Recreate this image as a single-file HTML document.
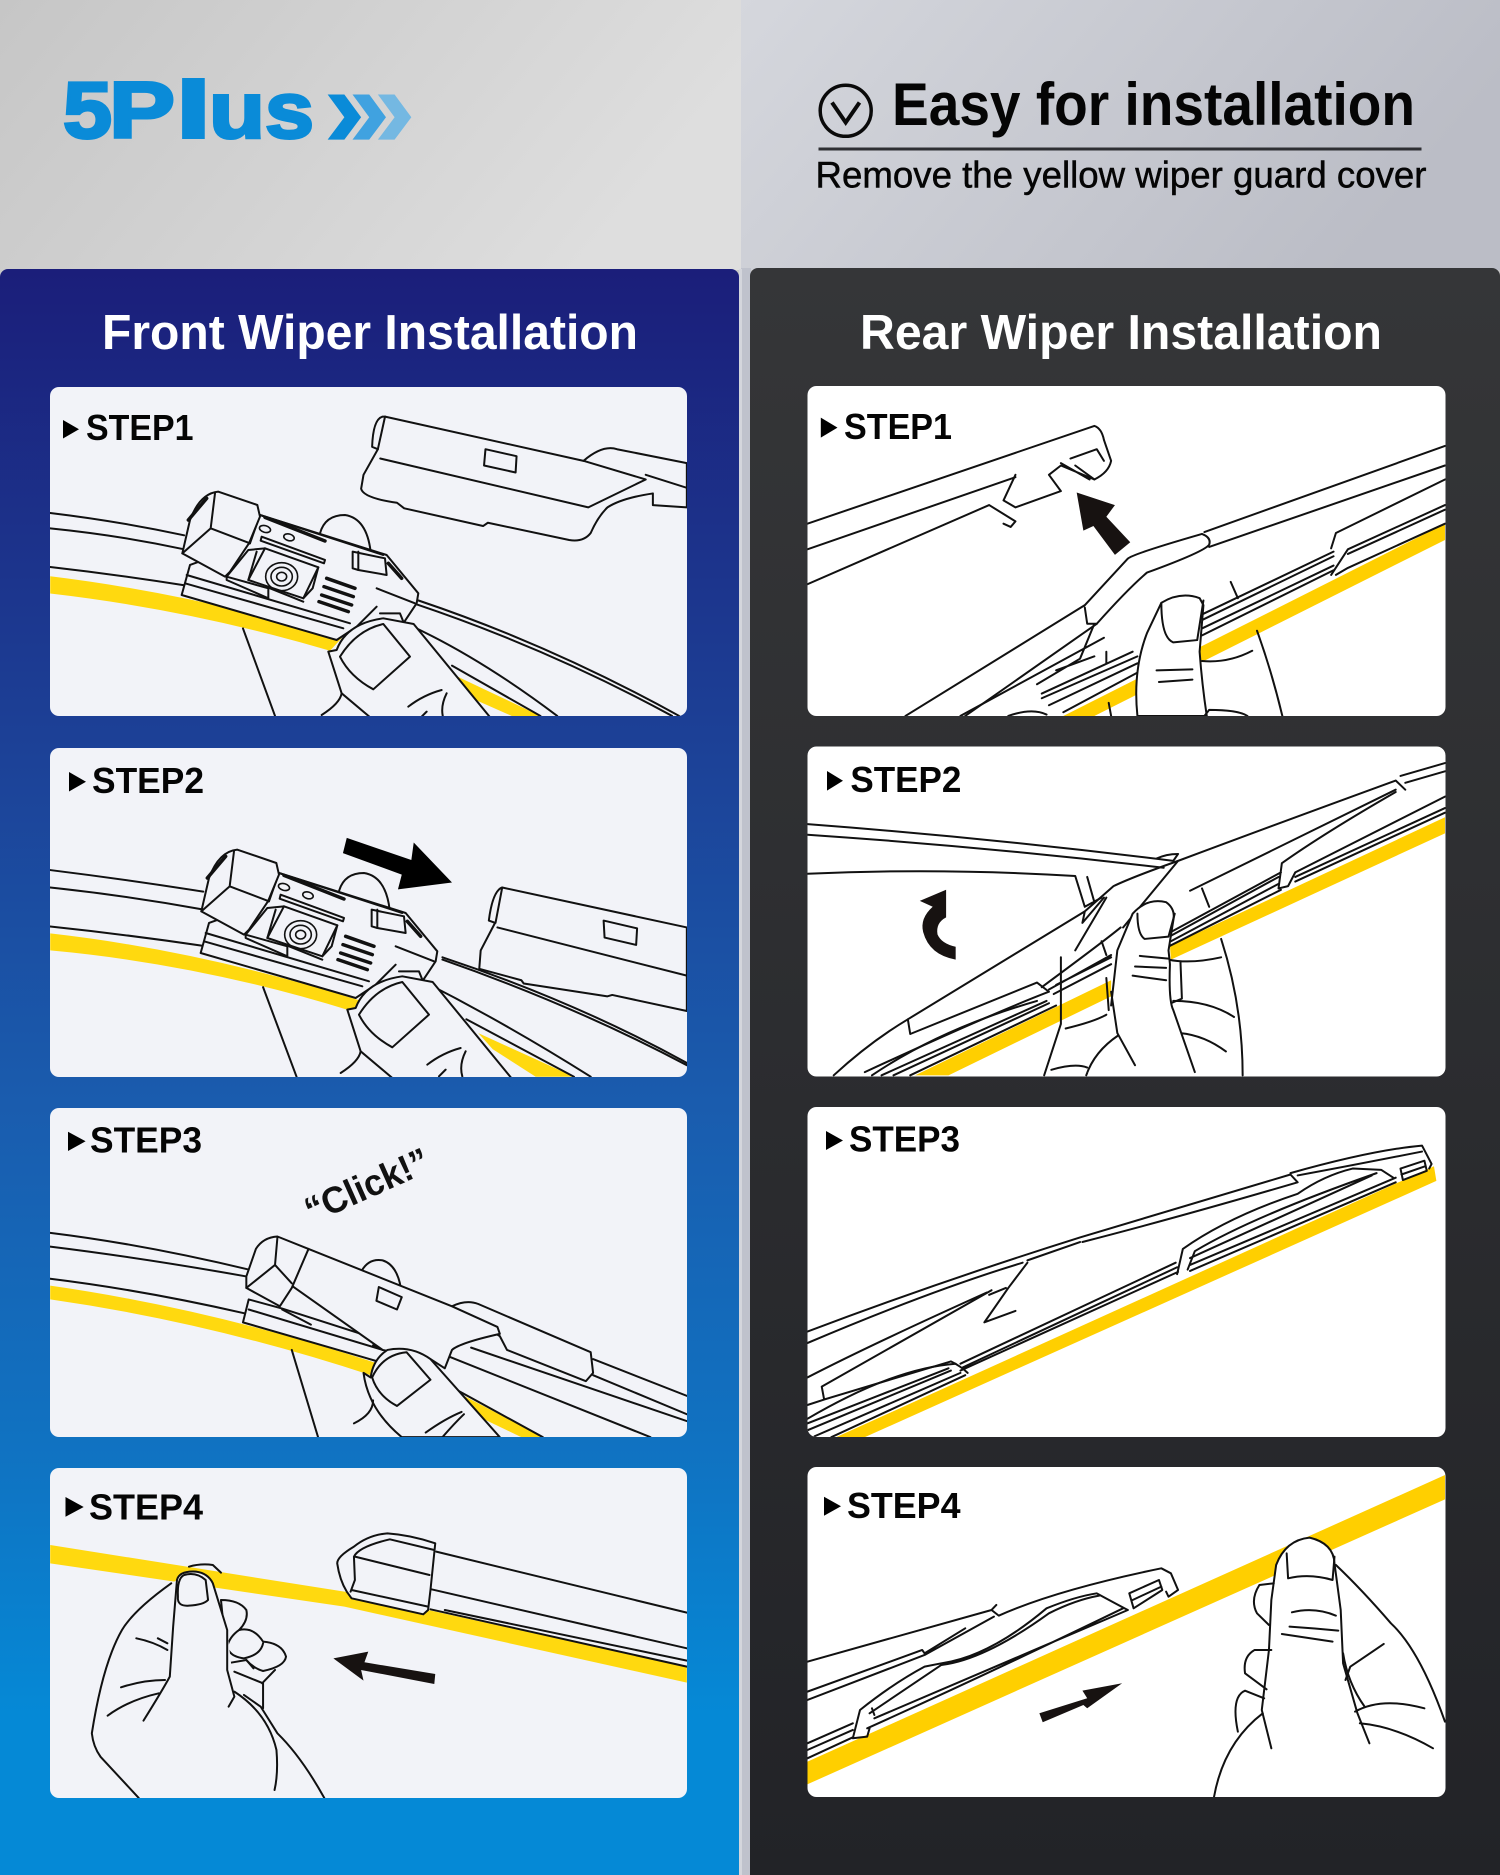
<!DOCTYPE html>
<html><head><meta charset="utf-8"><style>
html,body{margin:0;padding:0;background:#c8c8c8}
svg{display:block}
.d path,.d ellipse{vector-effect:non-scaling-stroke;fill:none;stroke:#111;stroke-width:2;stroke-linejoin:round;stroke-linecap:round}
.d path.f{fill:#f2f3f8}
.d path.w{fill:#fff}
.d path.y{fill:#ffd90f;stroke:none}
.d path.o{fill:#ffcf00;stroke:none}
.d path.k{fill:#171211;stroke:none}
.d path.b{stroke-width:3.5}
.d path.t,.d ellipse{stroke-width:1.6}
text{font-family:"Liberation Sans",sans-serif}
.s{font-weight:700;font-size:36px;fill:#050505}
.l{font-weight:700;font-size:80px;fill:#0a8bd8;stroke:#0a8bd8;stroke-width:3}
</style></head><body>
<svg width="1500" height="1875" viewBox="0 0 1500 1875" xmlns="http://www.w3.org/2000/svg">
<defs>
<linearGradient id="a" x1="0" y1="0" x2="1" y2=".3"><stop offset="0" stop-color="#c6c6c6"/><stop offset="1" stop-color="#dedede"/></linearGradient>
<linearGradient id="b" x1="0" y1="0" x2="1" y2=".3"><stop offset="0" stop-color="#d5d7dd"/><stop offset="1" stop-color="#bbbdc6"/></linearGradient>
<linearGradient id="c" x1="0" y1="0" x2="0" y2="1"><stop offset="0" stop-color="#1b1e7a"/><stop offset=".29" stop-color="#1c4096"/><stop offset=".52" stop-color="#1a5cae"/><stop offset=".75" stop-color="#0f74c3"/><stop offset=".9" stop-color="#0589d6"/></linearGradient>
<linearGradient id="e" x1="0" y1="0" x2="0" y2="1"><stop offset="0" stop-color="#353638"/><stop offset="1" stop-color="#222327"/></linearGradient>
<clipPath id="cl1"><rect x="50" y="387" width="637" height="329" rx="9"/></clipPath>
<clipPath id="cl2"><rect x="50" y="748" width="637" height="329" rx="9"/></clipPath>
<clipPath id="cl3"><rect x="50" y="1108" width="637" height="329" rx="9"/></clipPath>
<clipPath id="cl4"><rect x="50" y="1468" width="637" height="330" rx="9"/></clipPath>
<clipPath id="cr1"><rect x="807.5" y="386" width="638" height="330" rx="9"/></clipPath>
<clipPath id="cr2"><rect x="807.5" y="746.5" width="638" height="330" rx="9"/></clipPath>
<clipPath id="cr3"><rect x="807.5" y="1107" width="638" height="330" rx="9"/></clipPath>
<clipPath id="cr4"><rect x="807.5" y="1467" width="638" height="330" rx="9"/></clipPath>
<g id="conn" class="d">
<path d="M450 160Q465 105 525 105Q590 115 602 215"/>
<path class="f" d="M60 255L35 345L500 480L560 440L700 430L740 370L745 340L650 225L270 105L240 190Z"/>
<path d="M50 285L540 430M45 310L520 445"/>
<path class="b" d="M285 112L465 183"/>
<path d="M270 105L640 225M275 170L465 240L462 250L272 182ZM620 325L735 370M630 400L690 400L700 425M620 380L560 440"/>
<ellipse cx="285" cy="147" rx="17" ry="10" transform="rotate(15 285 147)"/>
<ellipse cx="357" cy="172" rx="16" ry="10" transform="rotate(15 357 172)"/>
<path class="f" d="M285 205L445 262L400 355L235 300Z"/>
<path d="M445 262L428 325L400 355M170 290L235 210L285 205M170 290L295 325V355L170 300ZM260 215L235 300M300 325L400 365"/>
<ellipse cx="335" cy="290" rx="48" ry="42"/><ellipse cx="335" cy="290" rx="32" ry="28"/><ellipse cx="335" cy="290" rx="15" ry="13"/>
<path class="b" d="M470 295L555 325M462 320L550 350M455 345L545 375M447 365L535 395"/>
<path class="f" d="M548 215L645 235L650 285L565 270L548 265Z"/>
<path d="M565 215V270"/><path class="b" d="M655 250L695 295"/>
<path class="f" d="M37 220L60 120Q90 40 145 35L262 75L270 110L237 190L180 275L165 290Z"/>
<path d="M135 40L122 145L37 220M122 145L240 190"/><path class="b" d="M55 120L110 55"/>
<path class="f" d="M475 515L515 640L610 720H967L731 432L640 415Q530 430 500 510Z"/>
<path class="f" d="M510 530Q560 450 640 432L720 530L610 628Q540 590 510 530Z"/>
<path d="M515 640Q510 670 455 705M715 680Q760 645 815 630M750 715L770 695M830 640Q810 680 820 715"/>
</g>
</defs>
<rect width="741" height="270" fill="url(#a)"/>
<rect x="741" width="759" height="270" fill="url(#b)"/>
<rect x="741" y="268" width="10" height="1607" fill="#bfc2cc"/>
<rect x="739" y="269" width="3" height="1606" fill="#d4d6dc"/>
<path d="M0 277a8 8 0 0 1 8-8H731a8 8 0 0 1 8 8V1875H0Z" fill="url(#c)"/>
<path d="M750 276a8 8 0 0 1 8-8H1492a8 8 0 0 1 8 8V1875H750Z" fill="url(#e)"/>
<rect x="50" y="387" width="637" height="329" rx="9" fill="#f2f3f8"/>
<rect x="50" y="748" width="637" height="329" rx="9" fill="#f2f3f8"/>
<rect x="50" y="1108" width="637" height="329" rx="9" fill="#f2f3f8"/>
<rect x="50" y="1468" width="637" height="330" rx="9" fill="#f2f3f8"/>
<rect x="807.5" y="386" width="638" height="330" rx="9" fill="#fff"/>
<rect x="807.5" y="746.5" width="638" height="330" rx="9" fill="#fff"/>
<rect x="807.5" y="1107" width="638" height="330" rx="9" fill="#fff"/>
<rect x="807.5" y="1467" width="638" height="330" rx="9" fill="#fff"/>

<!-- logo -->
<text class="l" x="63" y="137.5" textLength="49" lengthAdjust="spacingAndGlyphs">5</text>
<text class="l" x="109" y="137.5" textLength="66" lengthAdjust="spacingAndGlyphs">P</text>
<text class="l" x="175.5" y="137.5" textLength="36" lengthAdjust="spacingAndGlyphs">l</text>
<text class="l" x="209" y="137.5" textLength="56" lengthAdjust="spacingAndGlyphs">u</text>
<text class="l" x="265" y="137.5" textLength="49" lengthAdjust="spacingAndGlyphs">s</text>
<g transform="scale(.4783,.4655)">
<path d="M685 203H720L755 252L720 300H685L720 252Z" fill="#0a8bd8"/>
<path d="M737 203H772L807 252L772 300H737L772 252Z" fill="#40a2e0"/>
<path d="M790 203H825L860 252L825 300H790L825 252Z" fill="#74b8e2"/>
</g>

<!-- header right -->
<circle cx="845.7" cy="110.8" r="25.5" fill="none" stroke="#0a0a0a" stroke-width="3.5"/>
<path d="M832 102.5L845.7 122.5L859.5 102.5" fill="none" stroke="#0a0a0a" stroke-width="4"/>
<text x="892" y="125" font-size="60" font-weight="700" fill="#050505" textLength="523" lengthAdjust="spacingAndGlyphs">Easy for installation</text>
<rect x="818.5" y="147.5" width="603" height="3" fill="#2e2f33"/>
<text x="815.5" y="187.5" font-size="37" fill="#050505" stroke="#050505" stroke-width=".5" textLength="611" lengthAdjust="spacingAndGlyphs">Remove the yellow wiper guard cover</text>

<text x="102" y="349" font-size="49" font-weight="700" fill="#fff" textLength="536" lengthAdjust="spacingAndGlyphs">Front Wiper Installation</text>
<text x="860" y="349" font-size="49" font-weight="700" fill="#fff" textLength="522" lengthAdjust="spacingAndGlyphs">Rear Wiper Installation</text>

<!-- L1 -->
<g class="d" clip-path="url(#cl1)">
<g transform="scale(.4783,.4655)">
<path class="y" d="M105 1238Q400 1275 715 1370L690 1398Q400 1310 105 1275Z"/>
<path class="y" d="M945 1448L1130 1538H1070L975 1495Z"/>
<path d="M105 1102Q250 1120 385 1150M105 1135Q250 1150 385 1180M105 1218Q250 1235 390 1258"/>
<path d="M875 1290Q1150 1385 1420 1538M870 1298Q1150 1395 1405 1538M850 1340Q1000 1410 1165 1538M945 1430L1130 1538M508 1350L575 1538"/>
</g>
<g transform="translate(170,480) scale(.3333)"><use href="#conn"/></g>
<g transform="scale(.4783,.4655)">
<path class="f" d="M800 895Q780 900 778 960L790 965L760 1020L755 1050Q760 1070 830 1080L845 1092L1010 1130L1020 1123L1190 1160Q1220 1165 1235 1145Q1250 1110 1270 1090Q1300 1070 1365 1060L1365 1085L1436 1090V995L1290 965Q1260 955 1220 990L805 895Z"/>
<path d="M805 895L790 965M795 985L1230 1090L1350 1030L1220 990M1350 1020L1436 1048M1015 965L1080 980L1078 1015L1012 1000Z"/>
</g></g>

<!-- L2 -->
<g class="d" clip-path="url(#cl2)">
<g transform="translate(0,730) scale(.4783,.4592)">
<path class="y" d="M105 443Q420 480 755 590L735 612Q420 510 105 480Z"/>
<path class="y" d="M1000 660L1200 755H1120L1030 695Z"/>
<path d="M105 305Q260 325 425 352M105 343Q260 360 420 390M105 428Q260 445 425 470"/>
<path d="M925 495Q1200 590 1436 725M925 500Q1200 600 1436 730M880 545Q1060 640 1235 755M975 630L1200 755M550 560L620 755"/>
<path class="f" d="M1050 343Q1030 350 1022 415L1035 420L1005 480L1002 520L1090 545L1095 552L1270 580L1280 577L1436 612V430Z"/>
<path d="M1050 343L1036 420M1040 430L1436 535M1262 415L1332 432L1330 468L1264 452Z"/>
<path class="k" d="M725 235L860 283L865 245L945 332L832 347L840 315L717 268Z" style="fill:#000"/>
</g>
<g transform="translate(189,838) scale(.3333)"><use href="#conn"/></g>
</g>

<!-- L3 -->
<g class="d" clip-path="url(#cl3)"><g transform="translate(0,730) scale(.4783,.4592)">
<path class="y" d="M105 1210Q440 1260 785 1378L775 1405Q440 1290 105 1240Z"/>
<path class="y" d="M970 1450L1135 1540H1090L1000 1495Z"/>
<path d="M105 1095Q300 1120 520 1175M105 1125Q300 1150 515 1190M105 1195Q300 1220 510 1270M510 1290Q650 1330 790 1375"/>
<path d="M940 1365L1360 1540M985 1345L1436 1505M1240 1370L1436 1450M1240 1405L1436 1490M960 1440L1135 1540M610 1350L665 1540"/>
<path d="M755 1180Q770 1150 800 1155Q830 1165 838 1215"/>
<path class="f" d="M520 1240L508 1290L790 1375L830 1345L800 1330L590 1260Z"/>
<path d="M520 1262L800 1350M590 1262L650 1295M780 1340L800 1350"/>
<path class="f" d="M945 1255Q975 1240 1000 1250L1235 1355L1240 1400L1225 1418L1060 1350L1045 1320Z"/>
<path class="f" d="M645 1130L945 1255L1040 1300L1045 1315Q960 1335 945 1350L930 1390L900 1370L800 1350L610 1210Z"/>
<path d="M792 1213L840 1235L830 1262L787 1243Z"/>
<path class="f" d="M515 1190L535 1130Q550 1105 580 1103L645 1130L610 1215L585 1255L515 1215Z"/>
<path d="M580 1105L575 1165L515 1215M575 1165L610 1205"/>
<path class="f" d="M760 1400Q770 1480 840 1540H1045L900 1370Q860 1340 810 1350Q780 1370 775 1410Z"/>
<path class="f" d="M778 1410Q800 1360 850 1355L900 1415L830 1472Q790 1450 778 1410Z"/>
<path d="M890 1530Q930 1500 965 1485M925 1540Q950 1510 970 1490M740 1510Q780 1490 780 1460"/>
</g></g>
<text transform="translate(372,1197) rotate(-24)" text-anchor="middle" font-size="37" font-weight="700" fill="#111" textLength="132" lengthAdjust="spacingAndGlyphs">“Click!”</text>

<!-- L4 -->
<g class="d" clip-path="url(#cl4)"><g transform="translate(0,1450) scale(.4783,.3333)">
<path class="y" d="M105 285L720 425L1436 650V698L720 470L105 340Z"/>
<path class="f" d="M910 280Q860 255 810 250Q770 255 740 290Q705 320 705 340Q710 390 725 425L735 445L885 493L895 480L900 420Z"/>
<path d="M740 320Q750 290 815 268L908 300M742 320L898 375M740 320L742 390L733 425M735 420L895 470"/>
<path d="M912 305L1436 488M902 418L1436 595M900 478L1436 650M930 480L1436 632"/>
<path d="M395 350Q420 340 445 345L462 368"/>
<path class="f" d="M462 450Q500 450 515 480Q520 510 500 540Q530 530 550 575Q590 580 598 620Q595 650 550 663Q530 655 515 630L475 640Z"/>
<path d="M500 540Q480 560 475 590Q480 620 510 625Q545 615 550 580M515 630L530 655M490 665L550 700L550 775M575 660L548 700"/>
<path class="f" d="M358 400Q280 480 255 540Q215 640 192 850Q195 890 210 920L290 1044H678Q630 920 580 850L545 770L490 725L475 540L445 400Q435 370 410 365Q375 362 370 390Z" style="stroke:none"/>
<path d="M358 400Q280 480 255 540Q215 640 192 850Q195 890 210 920L290 1044"/>
<path d="M370 390Q375 362 410 365Q435 370 445 400L475 540L475 660L490 740L478 770M370 390L362 530L355 680Q340 720 300 812"/>
<path d="M372 440Q370 470 395 467Q425 465 435 450L430 390Q410 365 385 375Q370 385 372 440Z"/>
<path d="M490 725Q560 790 578 900Q582 970 574 1020M510 735L545 770L580 850Q630 920 678 1044"/>
<path d="M285 565Q320 575 350 600M330 565L350 580M253 712Q300 690 345 690M225 797Q270 750 332 730"/>
<path class="k" d="M697 625L770 605L762 637L910 672L908 702L755 660L760 692Z"/>
</g></g>

<!-- R1 -->
<g class="d" clip-path="url(#cr1)"><g transform="translate(750,0) scale(.4783,.4655)">
<path class="o" d="M1453 1125V1160L720 1538H655Z"/>
<path d="M120 1125L720 915Q735 920 740 945L755 990Q750 1015 720 1030L680 1000M120 1180L555 1025M120 1255L500 1085L555 1120L545 1132L530 1125"/>
<path d="M555 1020L530 1075L555 1090L650 1055L625 1020L650 1000L720 1030M650 995L710 1030M670 985L725 965L740 990"/>
<path class="k" d="M683 1058L763 1085L745 1110L795 1165L763 1192L718 1130L697 1140Z"/>
<path d="M950 1143L1453 958M960 1175L1453 1000M1215 1178L1225 1145L1453 1030M1215 1235L1250 1180L1453 1085M1225 1235L1250 1220L1453 1125M1250 1190L1453 1095"/>
<path d="M945 1320L1220 1185M945 1332L1220 1195M945 1350L1220 1215M945 1365L1220 1225M1005 1250L1020 1285"/>
<path d="M440 1538L740 1370M610 1490L800 1400M610 1500L810 1410M625 1515L810 1425M655 1530L810 1445M720 1340L690 1415L600 1470M640 1440L720 1410M540 1538Q590 1520 620 1535M745 1400L745 1425M750 1510L755 1538"/>
<path class="w" d="M325 1538L700 1300L790 1200Q800 1190 945 1147Q965 1155 960 1170Q950 1185 830 1230Q790 1265 725 1340L705 1340L700 1305"/>
<path d="M725 1340L450 1538"/>
<path class="w" d="M810 1538Q800 1440 830 1360L860 1295Q900 1270 940 1285L948 1300L940 1400Q945 1470 955 1538Z"/>
<path d="M860 1295Q860 1370 885 1380L935 1375L948 1290M850 1440L925 1438M855 1465L925 1460"/>
<path d="M1060 1355Q1090 1440 1113 1538M945 1420Q1000 1425 1050 1398M950 1538L960 1525Q1020 1525 1040 1538"/>
</g></g>

<!-- R2 -->
<g class="d" clip-path="url(#cr2)"><g transform="translate(750,730) scale(.4783,.4592)">
<path class="o" d="M1453 190V225L880 500L878 470Z"/>
<path class="o" d="M755 545V580L415 752H345Z"/>
<path d="M120 205Q500 235 885 285L895 270Q870 270 850 280M120 228Q500 255 865 300M120 313Q400 300 680 318L700 385L735 365M705 320L720 375"/>
<path d="M985 455Q1030 600 1030 752M875 500Q920 510 985 495M900 505L903 585L880 595M885 590Q960 590 1012 625M900 660Q950 665 995 700M650 495L650 640L615 752M660 650Q720 635 745 620M630 740Q680 725 705 735M770 665Q720 700 703 752M745 540L750 610M735 460L745 490"/>
<path d="M945 345L960 385M1110 310L880 440M1105 320L880 448M1105 335L880 460M1110 348L878 470M1105 345L1112 290Q1200 225 1350 135M1125 340L1140 310Q1300 225 1453 145M1140 320L1453 170M1140 330L1453 180M1105 345L1125 340"/>
<path d="M255 752Q400 650 600 590M275 752L620 590M300 752L625 595M335 752L640 600M625 565L755 490M635 575L755 510M640 555L755 495"/>
<path d="M175 752Q250 680 330 630L700 395L760 340Q800 320 895 285Q1100 205 1350 110L1370 130M1360 100L1453 72M1370 115L1453 90M700 395L695 420L740 365M680 480L745 365M775 430Q740 460 610 560M330 630L335 662L600 550L625 570Q500 620 240 745M895 285L780 430M920 350L1350 130"/>
<path class="w" d="M755 600L768 480L800 400Q830 365 870 375Q890 390 885 415L875 480L878 510Q875 590 885 610L930 745H705L805 730L768 660Z" style="stroke:none"/>
<path d="M755 600L768 480L800 400Q830 365 870 375Q890 390 885 415L875 480L878 510Q875 590 885 610L930 745M755 570L768 660L805 730"/>
<path d="M810 400Q810 445 825 455L875 450L888 400M815 492L875 498M805 515L870 518M800 535L870 545"/>
<path class="k" d="M355 372L410 348V408Q388 420 392 445Q400 465 430 472V500Q375 490 362 440Q355 410 382 385Z"/>
</g></g>

<!-- R3 -->
<g class="d" clip-path="url(#cr3)"><g transform="translate(750,730) scale(.4783,.4592)">
<path class="o" d="M1430 950L1435 982L240 1540H180Z"/>
<path d="M120 1310Q400 1200 690 1105L1130 968L1145 985Q900 1060 695 1115M120 1335Q380 1220 570 1160M1130 965Q1300 915 1405 905L1425 945L1420 955M1145 970Q1250 950 1405 918"/>
<path d="M580 1160L540 1215L490 1290L555 1265M690 1115L580 1155M505 1220L150 1430L155 1458L420 1375Q440 1385 455 1400M495 1225Q250 1340 120 1410M500 1230L535 1215M155 1458L120 1470"/>
<path d="M890 1160L440 1380M893 1170L445 1388M895 1180L440 1395M893 1185L905 1130Q1000 1060 1145 1010Q1200 970 1260 955L1320 958L1345 975M915 1175L930 1135Q1050 1060 1310 965M920 1150L1300 970M920 1165L1350 975M920 1178L1350 985"/>
<path d="M1360 955L1410 938L1415 960L1365 980ZM1362 968L1412 950"/>
<path d="M120 1500Q300 1390 430 1380M120 1525L420 1395M135 1538L440 1400M170 1540L450 1405M120 1510L415 1390"/>
</g></g>

<!-- R4 -->
<g class="d" clip-path="url(#cr4)"><g transform="translate(750,1450) scale(.4783,.3333)">
<path class="o" d="M120 935L1453 75V148L120 1003Z"/>
<path d="M120 635L505 480L520 497Q640 420 860 355L880 370L895 420L875 440L870 425M505 480L515 465M120 725L360 600L365 610M120 750L365 615L510 500M365 610L450 535"/>
<path d="M120 880L215 820M120 900L215 840M120 925L215 862M215 865L230 780Q300 700 365 650L400 640Q500 620 620 475Q680 440 725 430Q770 465 790 480M250 790L400 645Q490 630 625 490Q680 450 730 437M255 775L260 795M245 835Q500 670 780 475M260 805L790 480M215 865L245 860L250 835"/>
<path d="M793 430L855 390L862 420L802 475ZM800 450L860 410"/>
<path class="w" d="M1100 345Q1120 270 1170 263Q1220 280 1222 340L1235 480L1240 640L1270 790L1295 880L1090 895L1070 780L1085 600L1090 450Z" style="stroke:none"/>
<path d="M1100 345Q1120 270 1170 263Q1220 280 1222 340L1235 480L1240 640L1270 790L1295 880M1100 345L1090 450L1085 600L1070 780L1090 895"/>
<path d="M1122 310L1125 385Q1170 370 1218 390L1222 320M1133 487Q1180 470 1225 497M1128 530Q1180 535 1230 542M1112 552L1218 575"/>
<path d="M1225 345Q1280 420 1340 520Q1400 600 1453 815M1072 790Q990 880 970 1042"/>
<path d="M1095 400L1065 405Q1045 450 1060 490L1085 525M1090 600L1055 600Q1030 620 1035 670L1080 718M1075 745L1035 722Q1005 740 1020 845"/>
<path d="M1240 610Q1250 700 1285 770M1325 582L1255 650L1245 690M1265 785Q1320 740 1410 775M1275 820Q1350 830 1428 895"/>
<path class="k" d="M778 700L695 722L705 745L605 790L612 817L697 765L705 775Z"/>
</g></g>

<!-- STEP labels -->
<path d="M63 420L79 429.2L63 438.5Z"/><text class="s" x="86" y="440" textLength="107.5" lengthAdjust="spacingAndGlyphs">STEP1</text>
<path d="M69 772L86 781.7L69 791.5Z"/><text class="s" x="92" y="793" textLength="112" lengthAdjust="spacingAndGlyphs">STEP2</text>
<path d="M68 1131.7L85.6 1141.3L68 1151Z"/><text class="s" x="90" y="1152.4" textLength="112" lengthAdjust="spacingAndGlyphs">STEP3</text>
<path d="M65.5 1497L83.7 1507L65.5 1516.7Z"/><text class="s" x="89" y="1519.3" textLength="114" lengthAdjust="spacingAndGlyphs">STEP4</text>
<path d="M820.8 417.6L837.5 427.6L820.8 437.6Z"/><text class="s" x="844" y="439" textLength="108" lengthAdjust="spacingAndGlyphs">STEP1</text>
<path d="M827 771L843 780.8L827 790.6Z"/><text class="s" x="850.4" y="792" textLength="111" lengthAdjust="spacingAndGlyphs">STEP2</text>
<path d="M826 1131L843 1140.5L826 1150Z"/><text class="s" x="849" y="1151.5" textLength="111" lengthAdjust="spacingAndGlyphs">STEP3</text>
<path d="M824 1496.7L841 1506.2L824 1515.7Z"/><text class="s" x="847" y="1518" textLength="113.5" lengthAdjust="spacingAndGlyphs">STEP4</text>
</svg>
</body></html>
